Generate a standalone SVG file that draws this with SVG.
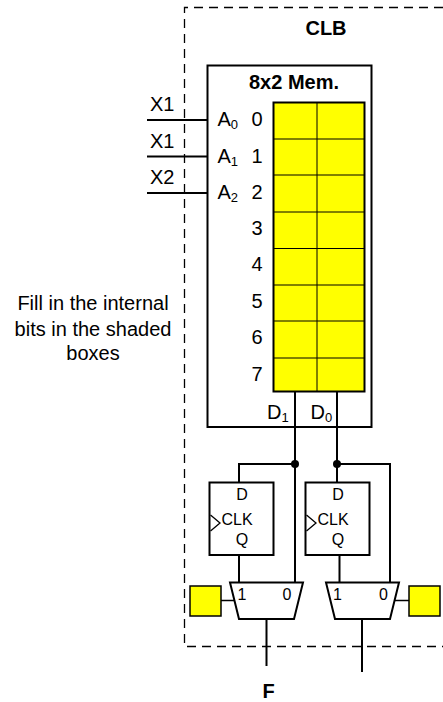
<svg xmlns="http://www.w3.org/2000/svg" width="443" height="702" viewBox="0 0 443 702">
<style>
text{font-family:"Liberation Sans",Arial,sans-serif;fill:#000}
.b{font-weight:bold;font-size:20px;text-anchor:middle}
.t{font-size:20px}
.n{font-size:20px;text-anchor:middle}
.s{font-size:16px;text-anchor:middle}
.note{font-size:20px;text-anchor:middle}
.sub{font-size:13px}
.box{fill:#fff;stroke:#000;stroke-width:2}
.y{fill:#ff0;stroke:#000;stroke-width:1.500}
.yy{fill:#ff0;stroke:#000;stroke-width:2}
.w{fill:none;stroke:#000;stroke-width:2}
.g{fill:none;stroke:#000;stroke-width:1}
.h{fill:none;stroke:#000;stroke-width:1.300}
.d{fill:none;stroke:#000;stroke-width:1.300;stroke-dasharray:9 6}
</style>
<g id="clb"><path class="d" d="M443 7.500H184.500V646.500H443"/><text class="b" x="326" y="35">CLB</text></g>
<g id="memory">
<rect class="box" x="207.500" y="65.500" width="164" height="361.500"/>
<text class="b" x="294" y="89">8x2 Mem.</text>
<rect class="yy" x="273.500" y="102.500" width="91" height="289"/>
<path class="g" d="M317 102.500V391.500M273.500 139H364.500M273.500 175H364.500M273.500 212H364.500M273.500 248.500H364.500M273.500 285H364.500M273.500 321H364.500M273.500 358H364.500"/>
<text class="t" x="217.500" y="126">A<tspan class="sub" dy="3">0</tspan></text>
<text class="t" x="217.500" y="162.500">A<tspan class="sub" dy="3">1</tspan></text>
<text class="t" x="217.500" y="198.500">A<tspan class="sub" dy="3">2</tspan></text>
<text class="n" x="257" y="126">0</text><text class="n" x="257" y="162.500">1</text><text class="n" x="257" y="198.500">2</text><text class="n" x="257" y="235">3</text><text class="n" x="257" y="271">4</text><text class="n" x="257" y="308">5</text><text class="n" x="257" y="344">6</text><text class="n" x="257" y="381">7</text>
<text class="t" x="267" y="419">D<tspan class="sub" dy="3">1</tspan></text>
<text class="t" x="310.500" y="419">D<tspan class="sub" dy="3">0</tspan></text>
</g>
<g id="connectors">
<path class="w" d="M147 120H207M147 156.500H207M147 193H207M295 391V582M337 391V482M295 464H239V482M337 464H390V582M239 555V582M339.500 555V582M266.500 619V666M362 619V672"/>
<path class="h" d="M221 600.500H234M395 600.500H409"/>
<circle cx="295" cy="464" r="4"/><circle cx="337" cy="464" r="4"/>
</g>
<g id="inputs"><text class="t" x="150" y="111">X1</text><text class="t" x="150" y="147.500">X1</text><text class="t" x="150" y="184">X2</text></g>
<g id="ff1"><rect class="box" x="209.500" y="482.500" width="64" height="72.500"/><path class="h" d="M210.500 515L220 523L210.500 531"/><text class="s" x="242" y="500">D</text><text class="s" x="237" y="525">CLK</text><text class="s" x="242" y="545">Q</text></g>
<g id="ff2"><rect class="box" x="305.500" y="482.500" width="64" height="72.500"/><path class="h" d="M306.500 515L316 523L306.500 531"/><text class="s" x="338" y="500">D</text><text class="s" x="333" y="525">CLK</text><text class="s" x="338" y="545">Q</text></g>
<g id="mux1"><path class="box" d="M230 582.500H303L294 619H239Z"/><text class="s" x="242" y="600">1</text><text class="s" x="287" y="600">0</text></g>
<g id="mux2"><path class="box" d="M326 582.500H399L390 619H335Z"/><text class="s" x="337.500" y="600">1</text><text class="s" x="383.500" y="600">0</text></g>
<g id="sel1"><rect class="y" x="190" y="586" width="31" height="30"/></g>
<g id="sel2"><rect class="y" x="409" y="586" width="31" height="30"/></g>
<g id="note"><text class="note" x="93" y="310">Fill in the internal</text><text class="note" x="93" y="335.500">bits in the shaded</text><text class="note" x="93" y="360">boxes</text></g>
<g id="f"><text class="b" x="268.500" y="697.500">F</text></g>
</svg>
